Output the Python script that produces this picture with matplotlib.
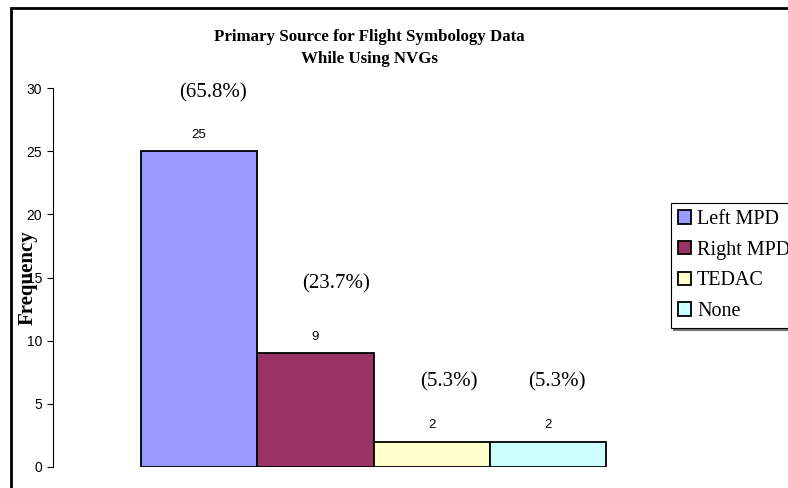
import matplotlib
matplotlib.use("Agg")
import matplotlib.pyplot as plt
from matplotlib.patches import Rectangle

categories = ["Left MPD", "Right MPD", "TEDAC", "None"]
counts = [25, 9, 2, 2]
percent_labels = ["(65.8%)", "(23.7%)", "(5.3%)", "(5.3%)"]
# free-floating positions of the percent text boxes (data coords)
percent_x = [0.12, 1.18, 2.15, 3.08]
percent_y = [29.6, 14.5, 6.7, 6.7]
colors = ["#9999FF", "#993366", "#FFFFCC", "#CCFFFF"]
yticks = [0, 5, 10, 15, 20, 25, 30]

W, H = 788, 488
fig = plt.figure(figsize=(W / 100, H / 100), dpi=100)

# outer chart border, cut off at right and bottom like the reference
fig.patches.append(Rectangle((11 / W, -0.05), 1.0, (H - 8) / H + 0.05,
                             transform=fig.transFigure, fill=False,
                             edgecolor="black", linewidth=2))

ax_left, ax_right = 53, 694
ax_bottom, ax_top = 467, 88
ax = fig.add_axes([ax_left / W, (H - ax_bottom) / H,
                   (ax_right - ax_left) / W, (ax_bottom - ax_top) / H])

for i, (name, val, col) in enumerate(zip(categories, counts, colors)):
    ax.bar(i, val, width=1.0, color=col, edgecolor="black",
           linewidth=1.3, label=name)
    ax.annotate(str(val), (i, val), xytext=(0, 12), textcoords="offset points",
                ha="center", va="center", fontsize=9.5, family="Liberation Sans")

for x, y, s in zip(percent_x, percent_y, percent_labels):
    ax.text(x, y, s, ha="center", va="center", fontsize=15,
            family="Liberation Serif")

ax.set_xlim(-1.255, 4.255)
ax.set_ylim(0, 30)
ax.set_yticks(yticks)
ax.set_xticks([])
for s in ["top", "right", "bottom"]:
    ax.spines[s].set_visible(False)
ax.spines["left"].set_linewidth(0.8)
ax.tick_params(axis="y", length=4, width=0.8, pad=4)
for lbl in ax.get_yticklabels():
    lbl.set_fontfamily("Liberation Sans")
    lbl.set_fontsize(10)

fig.text(27.5 / W, 1 - 278 / H, "Frequency", rotation=90, ha="center", va="center",
         fontsize=15, fontweight="bold", family="Liberation Serif")

fig.text(369 / W, 1 - 48 / H,
         "Primary Source for Flight Symbology Data\nWhile Using NVGs",
         ha="center", va="center", fontsize=12.2, fontweight="bold",
         family="Liberation Serif", linespacing=1.55)

leg = fig.legend(loc="upper left", bbox_to_anchor=(671 / W, 1 - 203 / H),
                 frameon=True, fancybox=False,
                 shadow={"ox": 1.5, "oy": -1.5, "color": "0.45", "alpha": 1},
                 prop={"family": "Liberation Serif", "size": 14.5},
                 handlelength=0.65, handleheight=0.65, handletextpad=0.3,
                 borderpad=0.35, labelspacing=0.58, borderaxespad=0)
leg.get_frame().set_edgecolor("black")
leg.get_frame().set_linewidth(0.8)

fig.savefig("out.png", dpi=100)
